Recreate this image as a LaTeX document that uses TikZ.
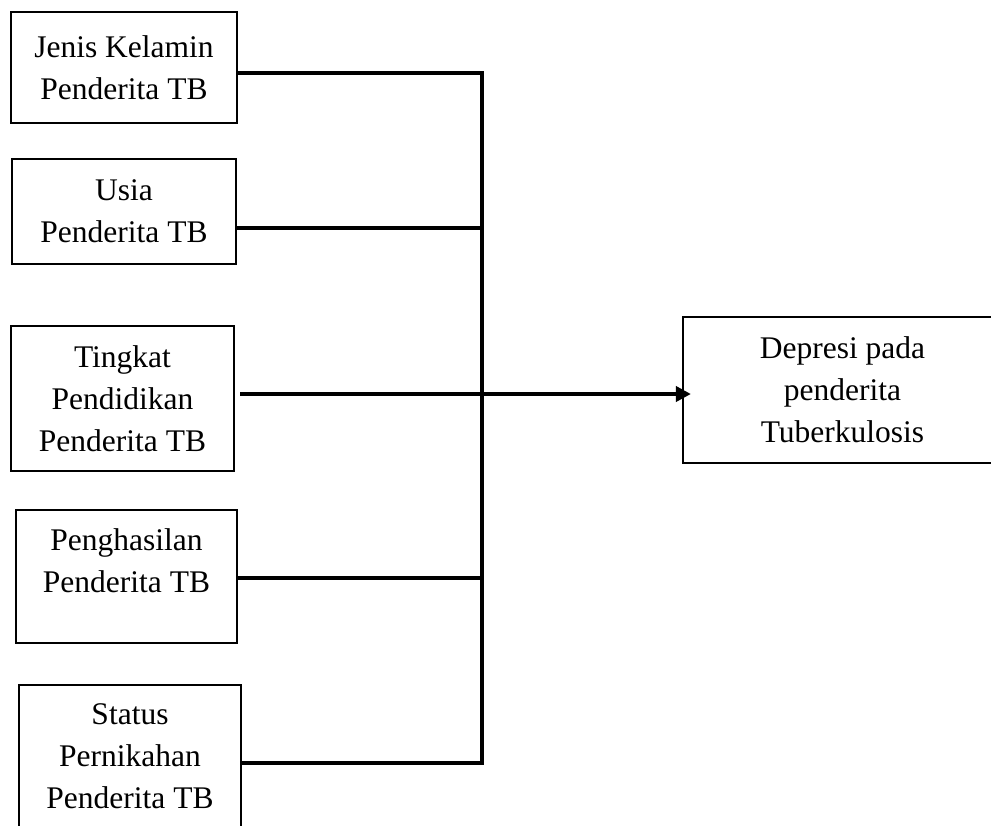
\documentclass[tikz,border=0pt]{standalone}
\usepackage{fontspec}
\setmainfont{Liberation Serif}
\usetikzlibrary{arrows.meta}
\tikzset{
  varbox/.style={draw, line width=2.2pt, inner sep=0pt, align=center,
    font=\fontsize{31.5}{42}\selectfont},
  link/.style={line width=3.2pt},
  mainlink/.style={line width=4pt, -{Triangle[length=15pt, width=15pt]}}
}
\begin{document}
\begin{tikzpicture}[x=1pt, y=-1pt]
\useasboundingbox (0,0) rectangle (991,825);
\clip (0,0) rectangle (991,825);

% Left boxes (factors)
\node[varbox, minimum width=226pt, minimum height=111pt] (kelamin) at (124,67.5) {Jenis Kelamin\\Penderita TB};
\node[varbox, minimum width=224pt, minimum height=105pt] (usia) at (124,211.5) {Usia\\Penderita TB};
\node[varbox, minimum width=223pt, minimum height=145pt] (didik) at (122.5,398.5) {Tingkat\\Pendidikan\\Penderita TB};
\node[varbox, minimum width=221pt, minimum height=133pt] (hasil) at (126.5,576.5) {Penghasilan\\Penderita TB\\[-11pt]\mbox{}};
\node[varbox, minimum width=222pt, minimum height=143pt] (nikah) at (130,756.5) {Status\\Pernikahan\\Penderita TB};

% Right box (outcome)
\node[varbox, minimum width=319pt, minimum height=146pt] (depresi) at (842.5,390) {Depresi pada\\penderita\\Tuberkulosis};

% Junctions on the vertical line
\coordinate (j1) at (482,73);
\coordinate (j2) at (482,228);
\coordinate (j3) at (482,394);
\coordinate (j4) at (482,578);
\coordinate (j5) at (482,763);

% Connectors
\draw[link] (kelamin.east |- j1) -- (j1) -- (j5) -- (nikah.east |- j5);
\draw[link] (usia.east |- j2) -- (j2);
\draw[link] (hasil.east |- j4) -- (j4);
\draw[mainlink] ([xshift=5pt]didik.east |- j3) -- ([xshift=9pt]depresi.west |- j3);
\end{tikzpicture}
\end{document}
